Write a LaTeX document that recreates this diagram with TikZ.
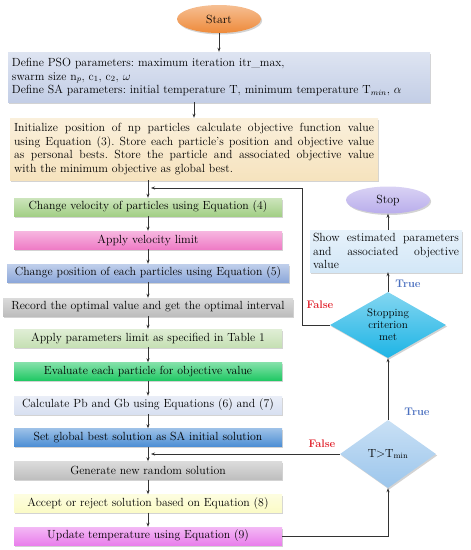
\documentclass[tikz,border=0pt]{standalone}
\usetikzlibrary{shapes.geometric,shadows,calc,arrows.meta}
\definecolor{startc}{HTML}{EE8A3A}
\definecolor{stopc}{HTML}{B9ADEB}
\definecolor{psoc}{HTML}{C3CEE6}
\definecolor{initc}{HTML}{F6E3BE}
\definecolor{velc}{HTML}{A3CF86}
\definecolor{vlimc}{HTML}{EF7CC6}
\definecolor{posc}{HTML}{8DA8DA}
\definecolor{recc}{HTML}{BDBDBD}
\definecolor{parc}{HTML}{C6E0B4}
\definecolor{evac}{HTML}{1FC863}
\definecolor{calc}{HTML}{D8E0F1}
\definecolor{setc}{HTML}{4C8ED4}
\definecolor{genc}{HTML}{BEBEBE}
\definecolor{accc}{HTML}{FBFBC6}
\definecolor{updc}{HTML}{E97FEC}
\definecolor{showc}{HTML}{D3E7F7}
\definecolor{scritc}{HTML}{1DB4E5}
\definecolor{tminc}{HTML}{9CC6EC}
\definecolor{truec}{HTML}{4A6FBF}
\definecolor{falsec}{HTML}{E0202A}
\frenchspacing
\begin{document}
\begin{tikzpicture}[x=1pt,y=-1pt,
  every node/.style={font=\fontsize{11.8}{13.5}\selectfont},
  bx/.style={draw=none, top color=#1!55!white, bottom color=#1, minimum height=18pt, inner sep=1pt,
    drop shadow={shadow xshift=1.2pt, shadow yshift=-1.5pt, opacity=0.35}},
  arr/.style={-{Stealth[length=4pt,width=3pt]}, line width=0.8pt, black!80},
  tlab/.style={text=truec, font=\bfseries\fontsize{11}{13}\selectfont},
  flab/.style={text=falsec, font=\bfseries\fontsize{11}{13}\selectfont}]
\useasboundingbox (0,0) rectangle (471,550);

\node[ellipse, bx=startc, minimum width=84pt, minimum height=28pt] (start) at (219,19) {Start};
\node[bx=psoc, minimum width=422pt, minimum height=50pt, align=left, text width=414pt] (pso) at (219,77)
  {Define PSO parameters: maximum iteration itr\_max,\\ swarm size n$_p$, c$_1$, c$_2$, $\omega$\\ Define SA parameters: initial temperature T, minimum temperature T$_{min}$, $\alpha$};
\node[bx=initc, minimum width=368pt, minimum height=62pt, align=justify, text width=360pt] (init) at (194,149)
  {\frenchspacing Initialize position of np particles calculate objective function value\linebreak using Equation (3). Store each particle's position and objective value\linebreak as personal bests. Store the particle and associated objective value\linebreak with the minimum objective as global best.};

\node[bx=velc, minimum width=268pt] (vel) at (148,207) {Change velocity of particles using Equation (4)};
\node[bx=vlimc, minimum width=268pt] (vlim) at (148,240) {Apply velocity limit};
\node[bx=posc, minimum width=282pt] (pos) at (148,273) {Change position of each particles using Equation (5)};
\node[bx=recc, minimum width=290pt] (rec) at (148,307) {Record the optimal value and get the optimal interval};
\node[bx=parc, minimum width=268pt] (par) at (148,338) {Apply parameters limit as specified in Table 1};
\node[bx=evac, minimum width=268pt] (eva) at (148,371.5) {Evaluate each particle for objective value};
\node[bx=calc, minimum width=268pt] (cal) at (148,405) {Calculate Pb and Gb using Equations (6) and (7)};
\node[bx=setc, minimum width=268pt] (set) at (148,437.5) {Set global best solution as SA initial solution};
\node[bx=genc, minimum width=268pt] (gen) at (148,470.5) {Generate new random solution};
\node[bx=accc, minimum width=268pt] (acc) at (148,503.5) {Accept or reject solution based on Equation (8)};
\node[bx=updc, minimum width=268pt] (upd) at (148,536) {Update temperature using Equation (9)};

\node[ellipse, bx=stopc, minimum width=84pt, minimum height=27pt] (stop) at (388,200) {Stop};
\node[bx=showc, minimum width=152pt, minimum height=42pt, align=justify, text width=146pt] (show) at (386,251)
  {Show estimated parameters\linebreak and associated objective\linebreak value};
\node[diamond, bx=scritc, aspect=1.75, minimum width=116pt, minimum height=66pt, inner sep=0pt, align=center,
  font=\fontsize{11}{12}\selectfont] (scrit) at (388,325) {Stopping\\criterion\\met};
\node[diamond, bx=tminc, aspect=1.4, minimum width=96pt, minimum height=68pt, inner sep=0pt] (tmin) at (388,454) {T$>$T$_{\mathrm{min}}$};

\coordinate (j1) at (151,188);
\coordinate (j2) at (151,454);
\coordinate (lp) at (302,325);

\draw[arr] (start) -- (pso);
\draw[arr] (init.north |- pso.south) -- (init.north);
\draw[arr] (vel.north |- init.south) -- (vel.north);
\foreach \a/\b in {vel/vlim, vlim/pos, pos/rec, rec/par, par/eva, eva/cal, cal/set, set/gen, gen/acc, acc/upd}
  \draw[arr] (\a) -- (\b);
\draw[arr] (upd.east) -| (tmin.south);
\draw[arr] (tmin.north) -- (scrit.south);
\draw[arr] (scrit.north) -- (show.south -| scrit.north);
\draw[arr] (show.north -| stop.south) -- (stop.south);
\draw[arr] (scrit.west) -- (lp) |- (j1);
\draw[arr] (tmin.west) -- (j2);

\node[tlab] (t1) at (408,284) {True};
\node[tlab] (t2) at (417,412) {True};
\node[flab] (f1) at (320,305) {False};
\node[flab] (f2) at (322,444) {False};
\end{tikzpicture}
\end{document}
